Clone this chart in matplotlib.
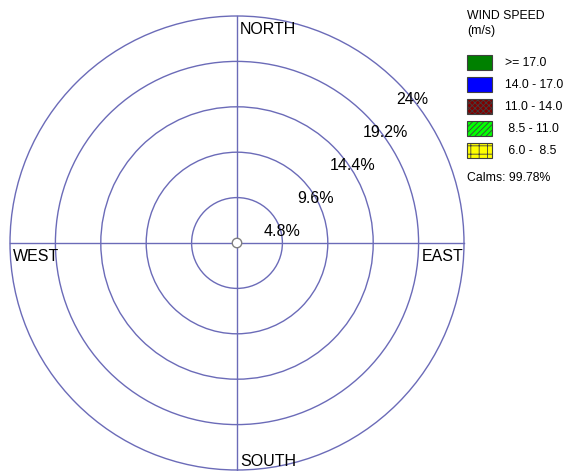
import numpy as np
import matplotlib.pyplot as plt
from matplotlib.patches import Circle, Rectangle

plt.rcParams['font.family'] = ['Liberation Sans', 'DejaVu Sans']
plt.rcParams['hatch.linewidth'] = 0.6

# ---
# Data
# ---

ring_values = [4.8, 9.6, 14.4, 19.2, 24.0]
ring_labels = ["4.8%", "9.6%", "14.4%", "19.2%", "24%"]
directions = ["NORTH", "EAST", "SOUTH", "WEST"]
speed_bins = [">= 17.0", "14.0 - 17.0", "11.0 - 14.0", " 8.5 - 11.0", " 6.0 -  8.5"]
bin_colors = ["#008000", "#0000ff", "#800000", "#00ff00", "#ffff00"]
bin_hatches = [None, None, "xxxxxx", "//////", "++"]
calms = 99.78

line_col = "#6b6bb8"
rmax = ring_values[-1]

# ---
# Figure
# ---

W, H = 566, 471
fig = plt.figure(figsize=(W / 100, H / 100), dpi=100)
cx, cy, rpx = 237, 243, 227
ax = fig.add_axes([(cx - rpx) / W, (H - cy - rpx) / H, 2 * rpx / W, 2 * rpx / H])
ax.set_xlim(-rmax, rmax)
ax.set_ylim(-rmax, rmax)
ax.set_aspect("equal")
ax.axis("off")

# rings
for r in ring_values:
    ax.add_patch(Circle((0, 0), r, fill=False, ec=line_col, lw=1.0, clip_on=False))

# spokes
ax.plot([0, 0], [-rmax, rmax], color=line_col, lw=1.0, clip_on=False)
ax.plot([-rmax, rmax], [0, 0], color=line_col, lw=1.0, clip_on=False)

# center
ax.add_patch(Circle((0, 0), 0.5, fc="white", ec="#808080", lw=1.0, zorder=5))

# ring labels
for r, lab in zip(ring_values, ring_labels):
    ax.text(0.727 * r - 0.63, 0.727 * r - 2.3, lab, ha="left", va="center",
            fontsize=11.5, clip_on=False)

# compass labels
fs = 11.5
ax.text(0.3, rmax - 0.6, "NORTH", ha="left", va="top", fontsize=fs, clip_on=False)
ax.text(0.3, -rmax + 0.1, "SOUTH", ha="left", va="bottom", fontsize=fs, clip_on=False)
ax.text(-rmax + 0.3, -0.6, "WEST", ha="left", va="top", fontsize=fs, clip_on=False)
ax.text(rmax - 0.1, -0.6, "EAST", ha="right", va="top", fontsize=fs, clip_on=False)

# ---
# Legend
# ---

lx = 467 / W
fig.text(lx, 1 - 10 / H, "WIND SPEED\n(m/s)", ha="left", va="top", fontsize=8.8,
         linespacing=1.3)
for i, (lab, col, hat) in enumerate(zip(speed_bins, bin_colors, bin_hatches)):
    top = 55 + 22 * i
    fig.patches.append(Rectangle((lx, 1 - (top + 15) / H), 25 / W, 15 / H,
                                 transform=fig.transFigure, fc=col, ec="#404040",
                                 lw=0.8, hatch=hat))
    fig.text(505 / W, 1 - (top + 8) / H, lab, ha="left", va="center", fontsize=8.8)
fig.text(lx, 1 - 178 / H, f"Calms: {calms:.2f}%", ha="left", va="center", fontsize=8.8)

fig.savefig("out.png", dpi=100)
